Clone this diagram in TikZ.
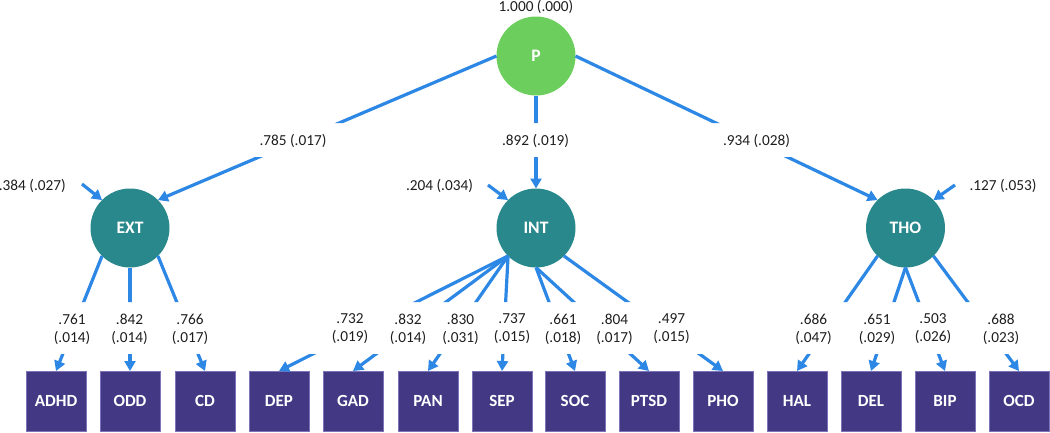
\documentclass[tikz,border=0pt]{standalone}
\usepackage{fontspec}
\setmainfont{Carlito}
\usetikzlibrary{arrows.meta}
\definecolor{lnblue}{RGB}{44,136,228}
\definecolor{pgreen}{RGB}{108,206,92}
\definecolor{fteal}{RGB}{41,136,140}
\definecolor{bpurple}{RGB}{67,56,131}
\definecolor{bedge}{RGB}{125,115,185}
\definecolor{txt}{RGB}{30,30,30}
\begin{document}
\begin{tikzpicture}[x=1pt,y=-1pt,
  latent/.style={circle, minimum size=79pt, inner sep=0pt, outer sep=0pt, text=white, font=\fontsize{17.5}{20}\selectfont\bfseries},
  gfac/.style={latent, fill=pgreen},
  tfac/.style={latent, fill=fteal},
  obs/.style={rectangle, minimum size=60pt, inner sep=0pt, outer sep=0pt, fill=bpurple, draw=bedge, line width=0.8pt, text=white, font=\fontsize{17}{20}\selectfont\bfseries},
  conn/.style={draw=lnblue, line width=3.2pt, -{Triangle[length=10pt,width=11pt]}},
  lab/.style={text=txt, font=\fontsize{15.3}{18}\selectfont, inner sep=0pt, align=center},
]
\useasboundingbox (0,0) rectangle (1050,432);

% latent factors
\node[gfac] (P) at (536,56) {P};
\node[tfac] (EXT) at (130,228) {EXT};
\node[tfac] (INT) at (536,228) {INT};
\node[tfac] (THO) at (905.5,228) {THO};

% observed indicators
\node[obs] (ADHD) at (56,401) {ADHD};
\node[obs] (ODD) at (130,401) {ODD};
\node[obs] (CD) at (205,401) {CD};
\node[obs] (DEP) at (279,401) {DEP};
\node[obs] (GAD) at (353,401) {GAD};
\node[obs] (PAN) at (428,401) {PAN};
\node[obs] (SEP) at (502,401) {SEP};
\node[obs] (SOC) at (575,401) {SOC};
\node[obs] (PTSD) at (649,401) {PTSD};
\node[obs] (PHO) at (723,401) {PHO};
\node[obs] (HAL) at (797,401) {HAL};
\node[obs] (DEL) at (871,401) {DEL};
\node[obs] (BIP) at (945,401) {BIP};
\node[obs] (OCD) at (1019,401) {OCD};

% residual arrow tails
\coordinate (rEXT) at (82,184);
\coordinate (rINT) at (488,185);
\coordinate (rTHO) at (955,185);

% connectors, interrupted where the labels sit
\begin{scope}
\clip (-10,-10) rectangle (1060,123) (-10,157) rectangle (1060,302) (-10,354) rectangle (1060,440);
\draw[conn] (P.west) -- (EXT.north east);
\draw[conn] (P.south) -- (INT.north);
\draw[conn] (P.east) -- (THO.north west);
\draw[conn] (rEXT) -- (EXT.north west);
\draw[conn] (rINT) -- (INT.north west);
\draw[conn] (rTHO) -- (THO.north east);
\draw[conn] (EXT.south west) -- (ADHD.north);
\draw[conn] (EXT.south) -- (ODD.north);
\draw[conn] (EXT.south east) -- (CD.north);
\draw[conn] (INT.south west) -- (DEP.north);
\draw[conn] (INT.south west) -- (GAD.north);
\draw[conn] (INT.south west) -- (PAN.north);
\draw[conn] (INT.south west) -- (SEP.north);
\draw[conn] (INT.south) -- (SOC.north);
\draw[conn] (INT.south) -- (PTSD.north);
\draw[conn] (INT.south east) -- (PHO.north);
\draw[conn] (THO.south west) -- (HAL.north);
\draw[conn] (THO.south) -- (DEL.north);
\draw[conn] (THO.south) -- (BIP.north);
\draw[conn] (THO.south east) -- (OCD.north);
\end{scope}

% labels
\node[lab] (lP) at (536,7) {1.000 (.000)};
\node[lab] (lPE) at (293,141) {.785 (.017)};
\node[lab] (lPI) at (535.5,141) {.892 (.019)};
\node[lab] (lPT) at (756.5,141) {.934 (.028)};
\node[lab, anchor=east] (lrE) at (66,186) {.384 (.027)};
\node[lab] (lrI) at (439.5,186) {.204 (.034)};
\node[lab] (lrT) at (1003,186) {.127 (.053)};

\node[lab] (l1) at (72,329) {.761\\(.014)};
\node[lab] (l2) at (129.5,329) {.842\\(.014)};
\node[lab] (l3) at (190,329) {.766\\(.017)};
\node[lab] (l4) at (350,329) {.732\\(.019)};
\node[lab] (l5) at (408,329) {.832\\(.014)};
\node[lab] (l6) at (460.5,329) {.830\\(.031)};
\node[lab] (l7) at (512,329) {.737\\(.015)};
\node[lab] (l8) at (563,329) {.661\\(.018)};
\node[lab] (l9) at (614.5,329) {.804\\(.017)};
\node[lab] (l10) at (671.5,329) {.497\\(.015)};
\node[lab] (l11) at (813.5,329) {.686\\(.047)};
\node[lab] (l12) at (877,329) {.651\\(.029)};
\node[lab] (l13) at (933,329) {.503\\(.026)};
\node[lab] (l14) at (1001,329) {.688\\(.023)};
\end{tikzpicture}
\end{document}
